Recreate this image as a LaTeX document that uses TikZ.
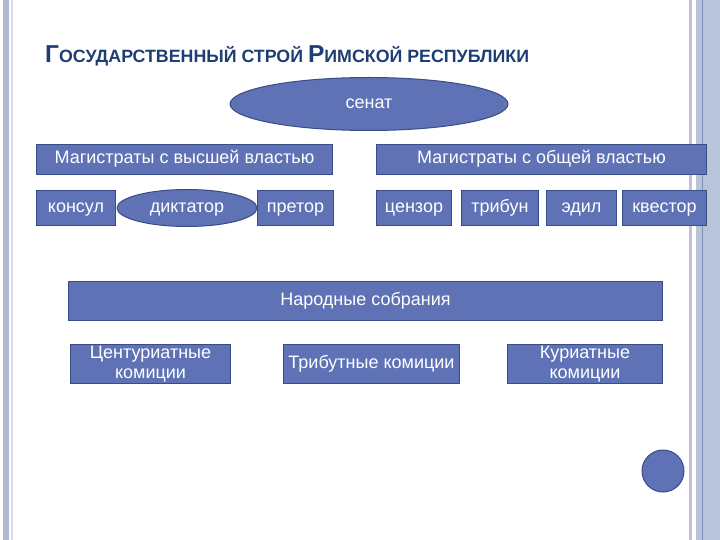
\documentclass[tikz,border=0pt]{standalone}
\usepackage{fontspec}
\setmainfont{Liberation Sans}
\usepackage{tikz}
\usetikzlibrary{positioning,shapes.geometric}
\usepackage{xcolor}

\definecolor{boxfill}{RGB}{94,114,181}
\definecolor{boxline}{RGB}{58,76,134}
\definecolor{titleblue}{RGB}{31,62,118}
\definecolor{stripe}{RGB}{180,182,214}
\definecolor{panel}{RGB}{184,196,218}
\definecolor{panelline}{RGB}{128,142,184}
\definecolor{lilac}{RGB}{200,190,216}

\newcommand{\boxfont}{\fontsize{18}{19}\selectfont}
\newcommand{\bigsc}{\fontsize{24.5}{26}\selectfont}
\newcommand{\smallsc}{\fontsize{17.8}{20}\selectfont}

\begin{document}
\begin{tikzpicture}[
    x=1pt, y=-1pt,
    box/.style={
        draw=boxline,
        fill=boxfill,
        line width=1pt,
        text=white,
        font=\boxfont,
        inner sep=0pt,
        anchor=north west,
        align=center,
        text height=13pt,
        text depth=4pt
    },
    twoline/.style={
        box,
        text height=,
        text depth=
    },
    oval/.style={
        box,
        ellipse,
        anchor=center
    },
    mytitle/.style={font=\bfseries, text=titleblue, anchor=base west, inner sep=0pt},
    ]

    \useasboundingbox (0,0) rectangle (720,540);
    \fill[white] (0,0) rectangle (720,540);

    % frame stripes
    \fill[stripe] (3,0) rectangle (9,540);
    \fill[lilac!60] (11,0) rectangle (12.5,540);
    \fill[lilac] (689,0) rectangle (692,540);
    \fill[panel] (696,0) rectangle (720,540);
    \fill[panelline] (701.5,0) rectangle (703,540);

    % title
    \node[mytitle] (title) at (45,63)
        {\bigsc Г\smallsc ОСУДАРСТВЕННЫЙ СТРОЙ \bigsc Р\smallsc ИМСКОЙ РЕСПУБЛИКИ};

    \node[oval, minimum width=278, minimum height=53] (senat) at (369,104) {сенат};

    \node[box, minimum width=296, minimum height=30] (high) at (36,144) {Магистраты с высшей властью};
    \node[box, minimum width=330, minimum height=30] (common) at (376,144) {Магистраты с общей властью};

    \node[box, minimum width=79, minimum height=35] (konsul) at (36,190) {консул};
    \node[box, minimum width=76, minimum height=35] (pretor) at (257,190) {претор};
    \node[oval, minimum width=140, minimum height=37] (diktator) at (187,208) {диктатор};

    \node[box, minimum width=75, minimum height=35] (cenzor) at (376,190) {цензор};
    \node[box, minimum width=77, minimum height=35] (tribun) at (461,190) {трибун};
    \node[box, minimum width=70, minimum height=35] (edil) at (546,190) {эдил};
    \node[box, minimum width=84, minimum height=35] (kvestor) at (622,190) {квестор};

    \node[box, minimum width=594, minimum height=39] (narod) at (68,281) {Народные собрания};

    \node[twoline, minimum width=160, minimum height=39] (centur) at (70,344) {Центуриатные\\[1.5pt]комиции};
    \node[box, minimum width=176, minimum height=39] (tribut) at (283,344) {Трибутные комиции};
    \node[twoline, minimum width=155, minimum height=39] (kuriat) at (507,344) {Куриатные\\[1.5pt]комиции};

    \node[oval, circle, minimum size=42] (dot) at (663,471) {};
\end{tikzpicture}
\end{document}
